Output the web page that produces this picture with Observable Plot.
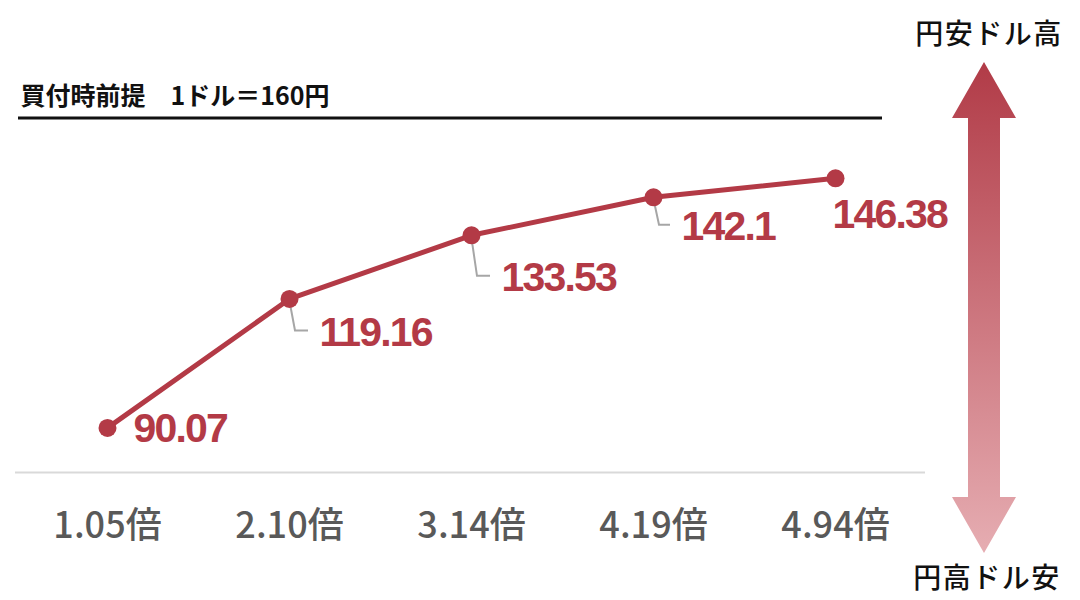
<!DOCTYPE html>
<html><head><meta charset="utf-8">
<script src="https://cdn.jsdelivr.net/npm/d3@7"></script>
<script src="https://cdn.jsdelivr.net/npm/@observablehq/plot@0.6"></script>
<style>body{margin:0;background:#fff}</style>
</head><body><div id="chart"></div>
<script>
// ---- data ----
const multiples = ["1.05倍", "2.10倍", "3.14倍", "4.19倍", "4.94倍"];
const rates = [90.07, 119.16, 133.53, 142.1, 146.38];
const rateLabels = ["90.07", "119.16", "133.53", "142.1", "146.38"];
const purchaseRate = 160;
const axisBase = 80;
const titleText = "買付時前提　1ドル＝160円";
const upLabel = "円安ドル高";
const downLabel = "円高ドル安";

// ---- layout / style ----
const RED = "#b33a46";
const labelOffsets = [[26, 1], [30, 34], [30, 43], [28, 30], [-3, 37]];
const hasLeader = [false, true, true, true, false];

const data = multiples.map((m, i) => ({m, v: rates[i], label: rateLabels[i], i}));
const baseRow = multiples.map(m => ({m, v: axisBase}));

const valueFont = "'Liberation Sans', Arial, sans-serif";
const jpFont = "'Noto Sans CJK JP', 'Noto Sans', sans-serif";

const labelMarks = data.map((d, i) => Plot.text([d], {
  x: "m", y: "v", text: "label",
  dx: labelOffsets[i][0], dy: labelOffsets[i][1],
  textAnchor: "start", lineAnchor: "middle",
  fill: RED, fontSize: 41, fontWeight: 700, fontFamily: valueFont
}));

function leadersMark(index, scales) {
  const g = d3.create("svg:g");
  data.forEach((d, i) => {
    if (!hasLeader[i]) return;
    const px = scales.x(d.m), py = scales.y(d.v);
    const ly = py + labelOffsets[i][1] - 2;
    const lx = px + labelOffsets[i][0] - 11;
    g.append("path")
      .attr("d", `M${px},${py}L${px + 6},${ly}L${lx},${ly}`)
      .attr("fill", "none").attr("stroke", "#a6a6a6").attr("stroke-width", 2);
  });
  return g.node();
}

function arrowMark(index, scales) {
  const g = d3.create("svg:g");
  const defs = g.append("defs");
  const grad = defs.append("linearGradient").attr("id", "arrowGrad")
    .attr("x1", 0).attr("y1", 0).attr("x2", 0).attr("y2", 1);
  grad.append("stop").attr("offset", "0%").attr("stop-color", "#b13b47");
  grad.append("stop").attr("offset", "100%").attr("stop-color", "#e6adb2");
  const cx = 984, top = 62, bot = 553, headH = 56, headW = 32, shaftW = 16;
  const p = [
    [cx, top], [cx + headW, top + headH], [cx + shaftW, top + headH],
    [cx + shaftW, bot - headH], [cx + headW, bot - headH], [cx, bot],
    [cx - headW, bot - headH], [cx - shaftW, bot - headH],
    [cx - shaftW, top + headH], [cx - headW, top + headH]
  ];
  g.append("path").attr("d", "M" + p.map(q => q.join(",")).join("L") + "Z")
    .attr("fill", "url(#arrowGrad)");
  g.append("text").attr("x", 989).attr("y", 36).attr("text-anchor", "middle")
    .attr("dominant-baseline", "middle")
    .attr("font-family", jpFont).attr("font-weight", 500).attr("font-size", 28)
    .attr("letter-spacing", 1.5).attr("fill", "#111").text(upLabel);
  g.append("text").attr("x", 987).attr("y", 580).attr("text-anchor", "middle")
    .attr("dominant-baseline", "middle")
    .attr("font-family", jpFont).attr("font-weight", 500).attr("font-size", 28)
    .attr("letter-spacing", 1.5).attr("fill", "#111").text(downLabel);
  return g.node();
}

const chart = Plot.plot({
  width: 1080,
  height: 600,
  marginLeft: 15,
  marginRight: 155,
  marginTop: 117,
  marginBottom: 128,
  x: {type: "point", domain: multiples, range: [106, 835], padding: 0, axis: null},
  y: {domain: [axisBase, purchaseRate], range: [472, 117.5], axis: null},
  style: {background: "#fff"},
  marks: [
    Plot.ruleY([axisBase], {stroke: "#d9d9d9", strokeWidth: 2}),
    Plot.ruleY([purchaseRate], {stroke: "#111", strokeWidth: 3, insetLeft: 3, insetRight: 43}),
    Plot.text([titleText], {
      frameAnchor: "top-left", dx: 5, dy: -13, text: d => d,
      textAnchor: "start", lineAnchor: "bottom",
      fontSize: 25, fontWeight: 700, fontFamily: jpFont, fill: "#111"
    }),
    Plot.text(baseRow, {
      x: "m", y: "v", text: "m", dy: 54, lineAnchor: "middle",
      fontSize: 36, fontWeight: 500, fontFamily: jpFont, fill: "#595959"
    }),
    leadersMark,
    Plot.line(data, {x: "m", y: "v", stroke: RED, strokeWidth: 5}),
    Plot.dot(data, {x: "m", y: "v", r: 9, fill: RED}),
    ...labelMarks,
    arrowMark
  ]
});
// slightly condensed value labels, like the reference typeface
d3.select(chart).selectAll("text")
  .filter(function () { return rateLabels.includes(this.textContent); })
  .attr("letter-spacing", -1.8);
document.getElementById("chart").append(chart);
</script>
</body></html>
